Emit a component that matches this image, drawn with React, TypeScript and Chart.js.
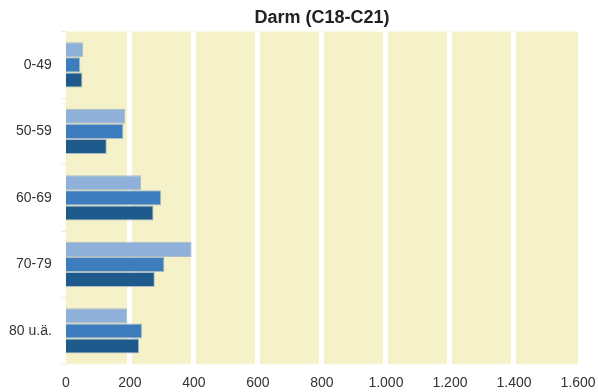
import React, { useEffect, useRef } from "react";
import { Chart, registerables } from "chart.js";

Chart.register(...registerables);

const TITLE = "Darm (C18-C21)";
const categories = ["0-49", "50-59", "60-69", "70-79", "80 u.ä."];
const seriesLight = [54, 185, 235, 393, 192];
const seriesMedium = [45, 180, 298, 308, 238];
const seriesDark = [52, 128, 274, 278, 229];
const X_MAX = 1600;
const X_STEP = 200;

const bgPlugin = {
  id: "plotBg",
  beforeDraw(chart: any) {
    const { ctx, chartArea } = chart;
    if (!chartArea) return;
    ctx.save();
    ctx.fillStyle = "#f5f2c9";
    ctx.fillRect(chartArea.left, chartArea.top, chartArea.right - chartArea.left, chartArea.bottom - chartArea.top);
    ctx.restore();
  },
};

export default function App() {
  const ref = useRef<HTMLCanvasElement | null>(null);
  useEffect(() => {
    if (!ref.current) return;
    const border = "rgba(160,180,200,0.85)";
    const chart = new Chart(ref.current, {
      type: "bar",
      data: {
        labels: categories,
        datasets: [
          { data: seriesLight, backgroundColor: "#8fb0d8", borderColor: border, borderWidth: 1 },
          { data: seriesMedium, backgroundColor: "#3e7dbd", borderColor: border, borderWidth: 1 },
          { data: seriesDark, backgroundColor: "#1f5a8c", borderColor: border, borderWidth: 1 },
        ],
      },
      options: {
        indexAxis: "y",
        animation: false,
        responsive: false,
        maintainAspectRatio: false,
        categoryPercentage: 0.68,
        barPercentage: 1.0,
        layout: { padding: { left: -1, right: 20, top: 0, bottom: -11 } },
        plugins: {
          legend: { display: false },
          tooltip: { enabled: false },
          title: {
            display: true,
            text: TITLE,
            fullSize: false,
            color: "#222",
            font: { family: "'Liberation Sans', Arial, sans-serif", size: 18, weight: "bold" },
            padding: { top: 7, bottom: 3 },
          },
        },
        scales: {
          x: {
            min: 0,
            max: X_MAX,
            afterFit: (s: any) => {
              s.paddingLeft = 0;
              s.paddingRight = 0;
            },
            ticks: {
              stepSize: X_STEP,
              padding: 11,
              color: "#333",
              font: { family: "'Liberation Sans', Arial, sans-serif", size: 14 },
              callback: (v: any) => Number(v).toLocaleString("de-DE"),
            },
            grid: {
              color: "#ffffff",
              lineWidth: (c: any) => (c.index === 0 || c.index === X_MAX / X_STEP ? 0 : 5),
              drawTicks: false,
            },
            border: { display: false },
          },
          y: {
            afterFit: (s: any) => {
              s.paddingTop = 0;
              s.paddingBottom = 0;
            },
            ticks: {
              padding: 10,
              color: "#333",
              font: { family: "'Liberation Sans', Arial, sans-serif", size: 14 },
            },
            grid: {
              drawOnChartArea: false,
              color: "#f1edc0",
              tickLength: 4,
              offset: true,
            },
            border: { display: false },
          },
        },
      },
      plugins: [bgPlugin],
    } as any);
    return () => chart.destroy();
  }, []);
  return (
    <div style={{ position: "fixed", left: 0, top: 0, width: 598, height: 392, background: "#fff" }}>
      <canvas ref={ref} width={598} height={392} style={{ width: 598, height: 392 }} />
    </div>
  );
}
